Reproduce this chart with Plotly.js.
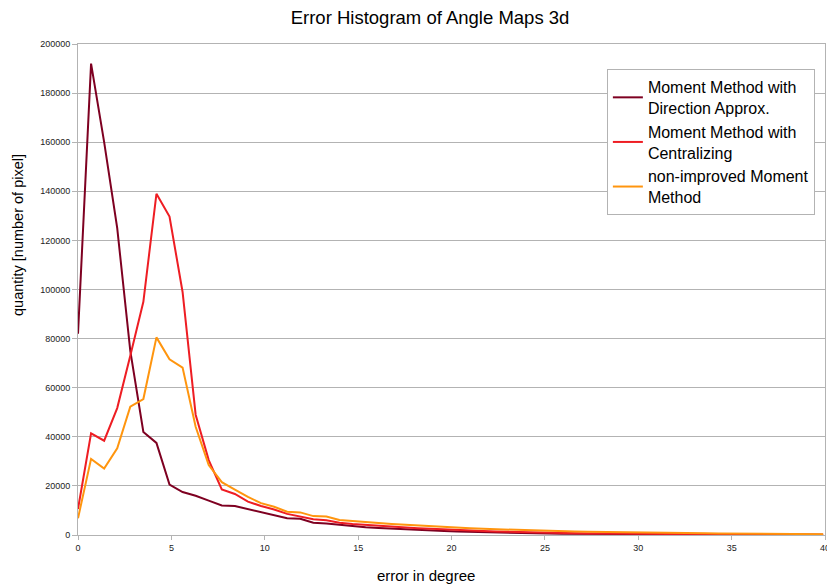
<!DOCTYPE html>
<html>
<head>
<meta charset="utf-8">
<script src="https://cdn.plot.ly/plotly-3.0.1.min.js"></script>
<style>html,body{margin:0;padding:0;background:#fff;}#chart{width:827px;height:587px;}</style>
</head>
<body>
<div id="chart"></div>
<script>
const errorDegree = [0, 0.7, 1.4, 2.1, 2.8, 3.5, 4.2, 4.9, 5.6, 6.3, 7.0, 7.7, 8.4, 9.1, 9.8, 10.5, 11.2, 11.9, 12.6, 13.3, 14.0, 14.7, 15.4, 16.1, 16.8, 17.5, 18.2, 18.9, 19.6, 20.3, 21.0, 21.7, 22.4, 23.1, 23.8, 24.5, 25.2, 25.9, 26.6, 27.3, 28.0, 28.7, 29.4, 30.1, 30.8, 31.5, 32.2, 32.9, 33.6, 34.3, 35.0, 35.7, 36.4, 37.1, 37.8, 38.5, 39.2, 39.9];

const directionApprox = [82000, 192000, 160000, 125000, 75000, 42000, 37500, 20500, 17500, 16000, 14000, 12000, 11800, 10500, 9300, 8100, 6800, 6600, 5000, 4700, 4100, 3600, 3200, 2900, 2600, 2200, 2000, 1800, 1600, 1400, 1250, 1100, 1000, 900, 800, 700, 620, 560, 500, 450, 400, 380, 350, 320, 300, 280, 260, 240, 220, 200, 190, 180, 170, 160, 150, 140, 130, 120];

const centralizing = [10600, 41400, 38400, 51700, 73000, 95000, 139000, 129700, 99000, 49000, 30500, 18600, 16700, 13600, 11800, 10400, 8600, 7500, 6400, 6000, 5000, 4500, 4100, 3700, 3400, 3100, 2800, 2500, 2200, 2000, 1800, 1600, 1450, 1300, 1150, 1000, 900, 800, 720, 650, 580, 520, 470, 420, 380, 350, 320, 290, 260, 240, 220, 200, 185, 170, 160, 150, 140, 130];

const nonImproved = [6800, 31000, 27100, 35300, 52300, 55400, 80500, 71600, 68200, 44100, 28500, 21500, 18500, 15500, 13000, 11500, 9500, 9200, 7700, 7500, 6100, 5600, 5300, 4900, 4500, 4200, 3700, 3400, 3100, 2900, 2700, 2500, 2300, 2100, 1950, 1800, 1650, 1500, 1400, 1300, 1200, 1100, 1000, 950, 900, 850, 800, 750, 700, 650, 600, 560, 520, 480, 440, 400, 370, 340];

const seriesNames = ["Moment Method with<br>Direction Approx.", "Moment Method with<br>Centralizing", "non-improved Moment<br>Method"];
const seriesColors = ["#7e0021", "#ee1d23", "#ff950e"];
const xTitle = "error in degree";
const yTitle = "quantity [number of pixel]";

const font = "Liberation Sans, Arial, sans-serif";
const ys = [directionApprox, centralizing, nonImproved];
const traces = ys.map((y, i) => ({
  x: errorDegree,
  y: y,
  type: "scatter",
  mode: "lines",
  name: seriesNames[i],
  line: {color: seriesColors[i], width: 2}
}));

const layout = {
  width: 827,
  height: 587,
  margin: {l: 78, r: 2, t: 44, b: 52},
  paper_bgcolor: "#fff",
  plot_bgcolor: "#fff",
  font: {family: font, color: "#000"},
  title: {text: "Error Histogram of Angle Maps 3d", font: {family: font, size: 18.5, color: "#000"}, x: 0.52, xref: "container", xanchor: "center", y: 0.97, yref: "container", yanchor: "middle"},
  xaxis: {
    range: [0, 40], dtick: 5, tick0: 0,
    showgrid: false, zeroline: false,
    showline: true, linecolor: "#b3b3b3", linewidth: 1, mirror: true,
    ticks: "outside", ticklen: 4, tickcolor: "#b3b3b3",
    tickfont: {family: font, size: 9, color: "#222"},
    ticklabeloverflow: "allow",
    automargin: false
  },
  yaxis: {
    range: [0, 200000], dtick: 20000, tick0: 0,
    tickformat: "d",
    showgrid: true, gridcolor: "#b3b3b3", gridwidth: 1,
    zeroline: false,
    showline: true, linecolor: "#b3b3b3", linewidth: 1, mirror: true,
    ticks: "outside", ticklen: 5, tickcolor: "#b3b3b3",
    tickfont: {family: font, size: 9, color: "#222"},
    automargin: false
  },
  annotations: [
    {text: xTitle, xref: "paper", yref: "paper", x: (426 - 78) / 747, y: -(576 - 535) / 491, xanchor: "center", yanchor: "middle", showarrow: false, font: {family: font, size: 15, color: "#000"}},
    {text: yTitle, xref: "paper", yref: "paper", x: -(78 - 18) / 747, y: (535 - 235) / 491, xanchor: "center", yanchor: "middle", textangle: -90, showarrow: false, font: {family: font, size: 14.5, color: "#000"}}
  ],
  showlegend: true,
  legend: {
    x: 0.708, y: 0.949, xanchor: "left", yanchor: "top",
    bgcolor: "#fff", bordercolor: "#b3b3b3", borderwidth: 1,
    font: {family: font, size: 16, color: "#000"},
    itemwidth: 30, tracegroupgap: 0
  }
};

Plotly.newPlot("chart", traces, layout, {staticPlot: true, displayModeBar: false});
</script>
</body>
</html>
